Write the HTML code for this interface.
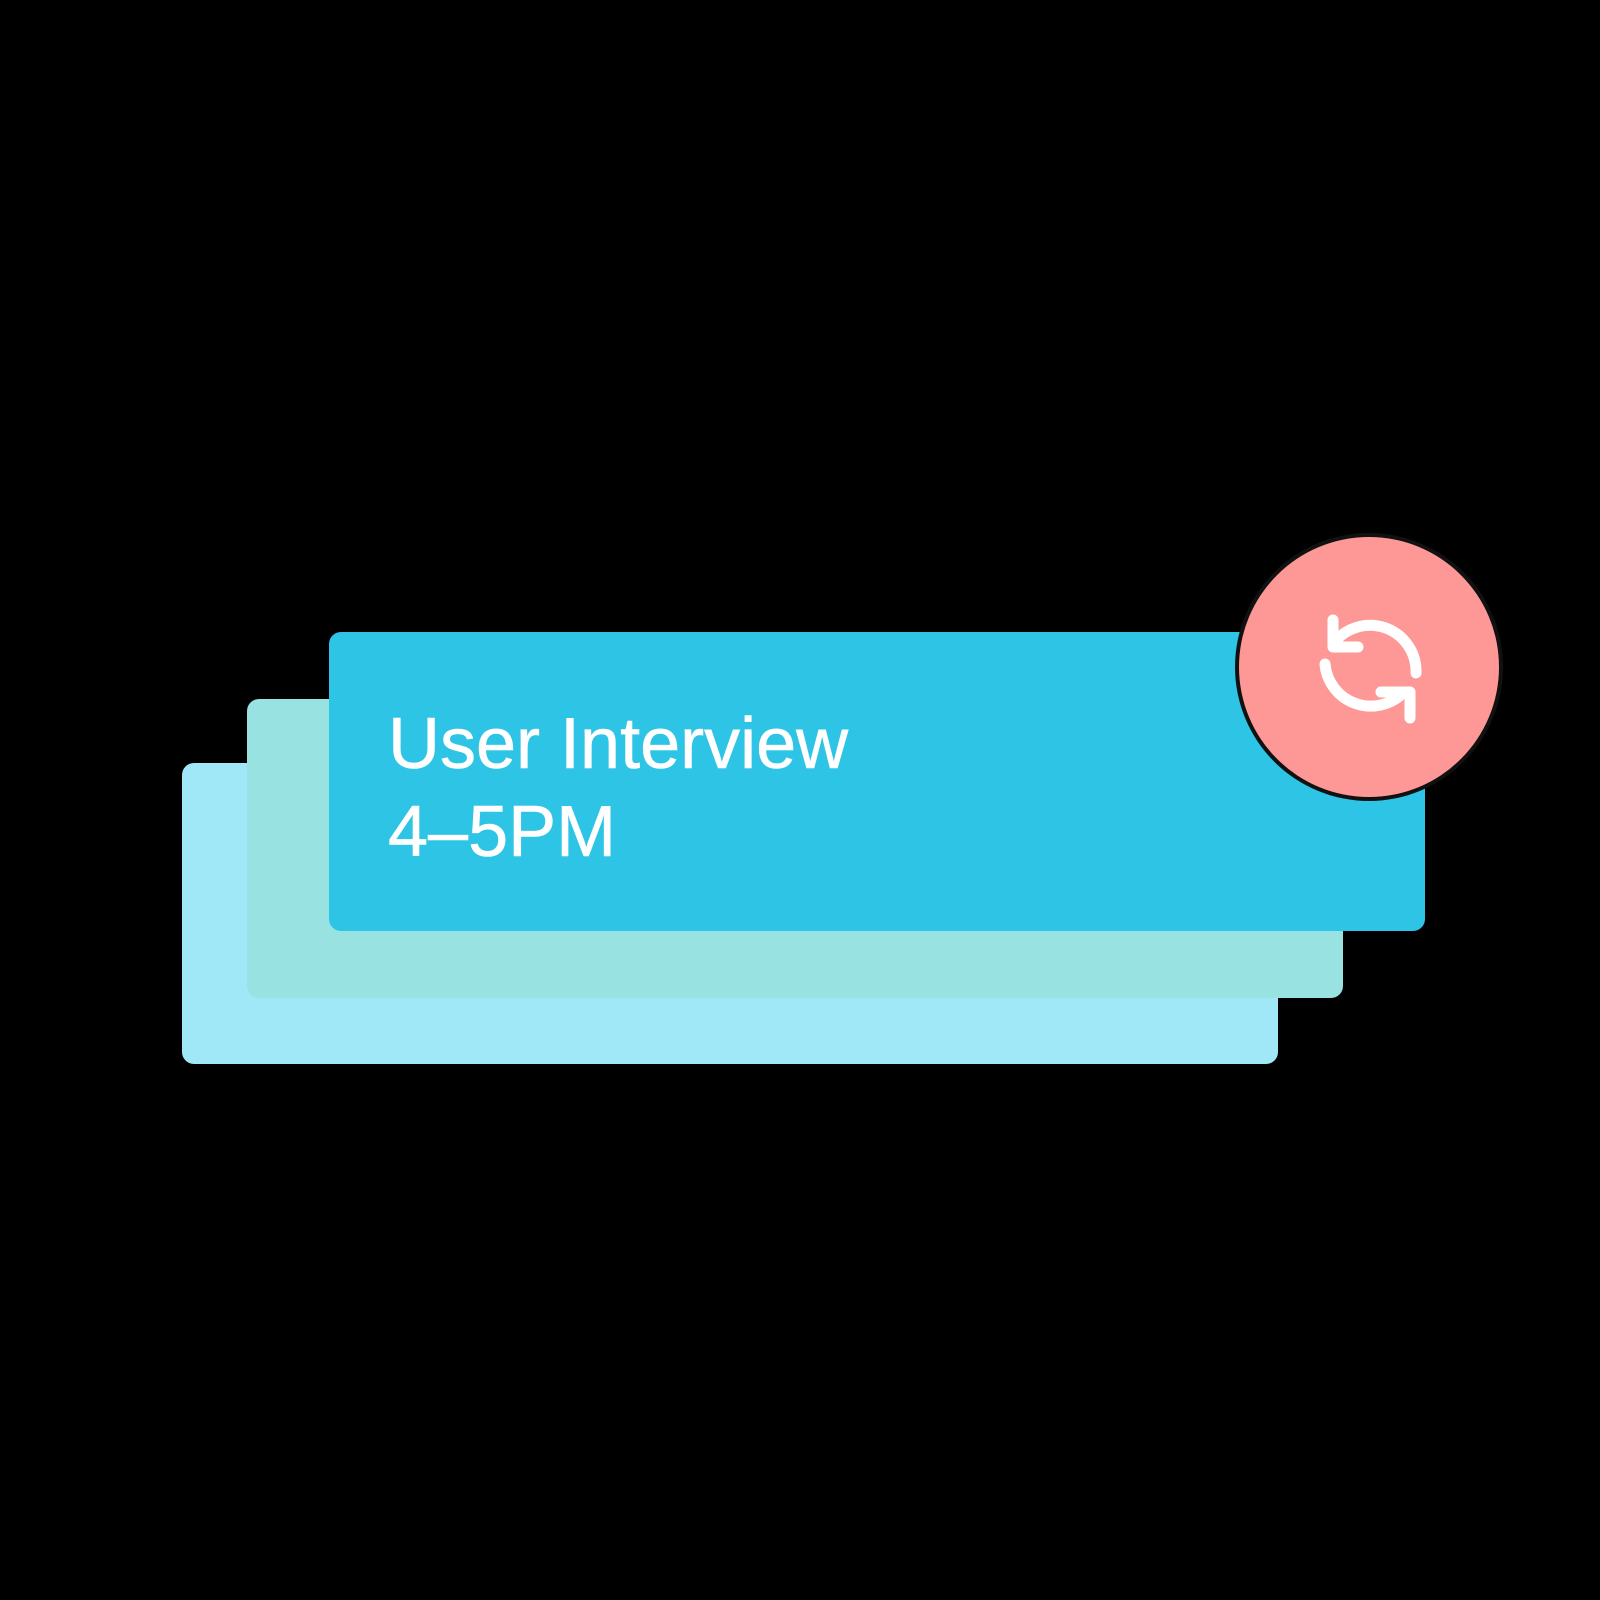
<!DOCTYPE html>
<html><head><style>
html,body{margin:0;padding:0;background:#000;width:1600px;height:1600px;overflow:hidden;font-family:"Liberation Sans",sans-serif}
.c{position:absolute;border-radius:12px}
</style></head><body>
<div class="c" style="left:182px;top:763px;width:1096px;height:301px;background:#a0e8f8"></div>
<div class="c" style="left:247px;top:699px;width:1096px;height:299px;background:#98e2e2"></div>
<div class="c" style="left:329px;top:632px;width:1096px;height:299px;background:#2ec4e6"></div>
<div style="position:absolute;left:388px;top:700px;color:#fff;font-size:72px;line-height:88px;-webkit-text-stroke:0.6px #fff">User Interview<br>4–5PM</div>
<svg style="position:absolute;left:0;top:0" width="1600" height="1600">
<circle cx="1369" cy="667" r="134" fill="#111"/>
<circle cx="1369" cy="667" r="130" fill="#fe9896"/>
<g fill="none" stroke="#fff" stroke-width="11" stroke-linecap="round" stroke-linejoin="round">
<path d="M1333 644 A46 46 0 0 1 1416 673"/>
<path d="M1333 620 L1333 647 L1358 647"/>
<path d="M1325 664 A46 46 0 0 0 1404 692"/>
<path d="M1381 692 L1410 692 L1410 718"/>
</g>
</svg>
</body></html>
